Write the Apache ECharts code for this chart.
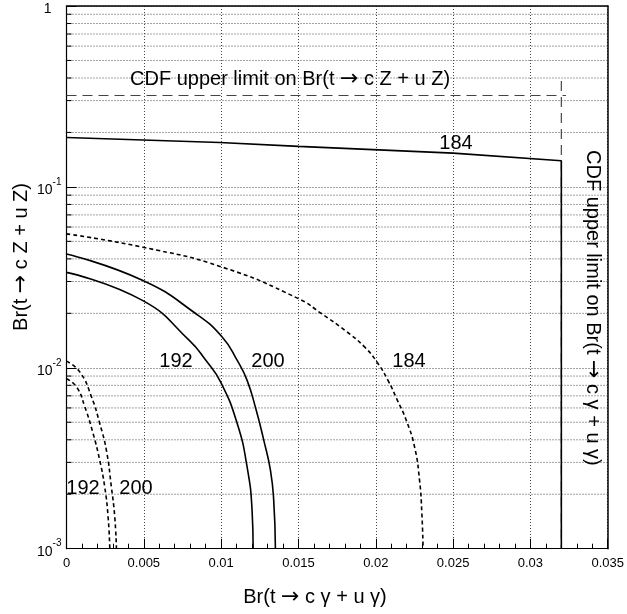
<!DOCTYPE html>
<html>
<head>
<meta charset="utf-8">
<script src="https://cdn.jsdelivr.net/npm/echarts@6/dist/echarts.min.js"></script>
<style>
html,body{margin:0;padding:0;background:#fff;}
#chart{width:627px;height:614px;}
</style>
</head>
<body>
<div id="chart"></div>
<script>
// ---- data (x = Br(t -> c gamma + u gamma), y = Br(t -> c Z + u Z)) ----
var xTicks = [0, 0.005, 0.01, 0.015, 0.02, 0.025, 0.03, 0.035];
var yTicks = [0.001, 0.01, 0.1, 1];

var solid184 = [[0, 0.1876], [0.0099, 0.176], [0.015, 0.1675], [0.025, 0.1538], [0.032, 0.1396], [0.032, 0.001]];
var solid200 = [[0, 0.0426], [0.00494, 0.0304], [0.00837, 0.0199], [0.01008, 0.01477], [0.01104, 0.01098],
  [0.01168, 0.00852], [0.01227, 0.00582], [0.01276, 0.00397], [0.01319, 0.00271], [0.0134, 0.00185], [0.01351, 0.001]];
var solid192 = [[0, 0.0337], [0.00494, 0.0235], [0.00794, 0.01417], [0.00901, 0.0110], [0.00997, 0.00834],
  [0.01104, 0.00492], [0.01168, 0.00283], [0.012, 0.00163], [0.01207, 0.001]];
var dashed184 = [[0, 0.0550], [0.00494, 0.0464], [0.01008, 0.0360], [0.01501, 0.0241], [0.0165, 0.0199],
  [0.01801, 0.0161], [0.01929, 0.0130], [0.02015, 0.01054], [0.02079, 0.00852], [0.0214, 0.00661],
  [0.02197, 0.00513], [0.02251, 0.00365], [0.02283, 0.00239], [0.02298, 0.00157], [0.02306, 0.001]];
var dashed200 = [[0, 0.01089], [0.00087, 0.00946], [0.00162, 0.0069], [0.00215, 0.00492], [0.00258, 0.0035],
  [0.0029, 0.0022], [0.00312, 0.0015], [0.00323, 0.001]];
var dashed192 = [[0, 0.00871], [0.00066, 0.00782], [0.00119, 0.00607], [0.00172, 0.00433], [0.00215, 0.00308],
  [0.00247, 0.0022], [0.00269, 0.0015], [0.0028, 0.001]];
var cdfZLimit = [[0, 0.32], [0.0323, 0.32]];
var cdfGammaLimit = [[0.032, 0.385], [0.032, 0.001]];

var minorLogValues = [];
[0.001, 0.01, 0.1].forEach(function (d) { for (var k = 2; k <= 9; k++) minorLogValues.push(+(d * k).toPrecision(3)); });

var FONT = '"Liberation Sans", Arial, Helvetica, sans-serif';
var ARROW_FONT = '"DejaVu Sans", sans-serif';

var chart = echarts.init(document.getElementById('chart'), null, {renderer: 'canvas'});

function lineSeries(data, dashed, smooth) {
  return {
    type: 'line', data: data, showSymbol: false, smooth: smooth, silent: true,
    xAxisIndex: 0, yAxisIndex: 0, z: 5,
    lineStyle: {color: '#000', width: 1.6, type: dashed ? [4, 3] : 'solid'}
  };
}

var richText = {
  n: {fontSize: 20, fontFamily: FONT, color: '#000'},
  a: {fontSize: 22, fontFamily: ARROW_FONT, color: '#000'}
};
function arrowText(pre, post) { return '{n|' + pre + '}{a|\u2192}{n|' + post + '}'; }

var option = {
  animation: false,
  backgroundColor: '#fff',
  grid: {left: 66.5, right: 16, top: 5, bottom: 65.3, containLabel: false},
  xAxis: [{
    type: 'value', min: 0, max: 0.035, interval: 0.005,
    axisLine: {show: true, lineStyle: {color: '#000', width: 1.2}},
    axisTick: {show: true, inside: true, length: 10, lineStyle: {color: '#000'}},
    minorTick: {show: true, splitNumber: 5, length: 5, lineStyle: {color: '#000'}},
    splitLine: {show: true, lineStyle: {color: '#444', type: [1, 2], width: 1}},
    axisLabel: {
      margin: 8, fontFamily: FONT, fontSize: 13, color: '#000', showMinLabel: true, showMaxLabel: true,
      formatter: function (v) { return String(+v.toFixed(3)); }
    }
  }, {
    type: 'value', position: 'top', min: 0, max: 0.035,
    axisLine: {show: true, onZero: false, lineStyle: {color: '#000', width: 1.5}},
    axisTick: {show: false}, axisLabel: {show: false}, splitLine: {show: false}
  }],
  yAxis: [{
    type: 'log', logBase: 10, min: 0.001, max: 1,
    axisLine: {show: true, lineStyle: {color: '#000', width: 1.2}},
    axisTick: {show: true, inside: true, length: 10, lineStyle: {color: '#000'}},
    splitLine: {show: true, lineStyle: {color: '#444', type: [1, 2], width: 1}},
    axisLabel: {
      margin: 5, fontFamily: FONT, color: '#000', showMinLabel: true, showMaxLabel: true,
      formatter: function (v) {
        var e = Math.round(Math.log10(v));
        if (e === 0) return '{b|1}{p|}';
        return '{b|10}{s|' + e + '}';
      },
      rich: {
        b: {fontSize: 14, fontFamily: FONT, color: '#000', verticalAlign: 'bottom', lineHeight: 20},
        s: {fontSize: 10, fontFamily: FONT, color: '#000', verticalAlign: 'top', lineHeight: 20, padding: [0, 0, 12, 0]},
        p: {width: 10}
      }
    }
  }, {
    type: 'log', logBase: 10, min: 0.001, max: 1, position: 'right',
    axisLine: {show: true, onZero: false, lineStyle: {color: '#000', width: 1.5}},
    axisTick: {show: false}, axisLabel: {show: false}, splitLine: {show: false}
  }],
  series: [
    {
      type: 'custom', silent: true, z: 1,
      data: minorLogValues.map(function (v) { return [0, v]; }),
      renderItem: function (params, api) {
        var p = api.coord([0, api.value(1)]);
        var cs = params.coordSys;
        return {
          type: 'group', children: [
            {type: 'line', shape: {x1: cs.x, y1: p[1], x2: cs.x + cs.width, y2: p[1]},
              style: {stroke: '#444', lineWidth: 1, lineDash: [1, 2]}},
            {type: 'line', shape: {x1: cs.x, y1: p[1], x2: cs.x + 5, y2: p[1]},
              style: {stroke: '#000', lineWidth: 1}}
          ]
        };
      }
    },
    {
      type: 'line', data: cdfZLimit, showSymbol: false, silent: true, z: 4,
      lineStyle: {color: '#444', width: 1.2, type: [10, 6]}
    },
    {
      type: 'line', data: cdfGammaLimit, showSymbol: false, silent: true, z: 4,
      lineStyle: {color: '#444', width: 1.2, type: [10, 6]}
    },
    lineSeries(solid184, false, false),
    lineSeries(solid200, false, 0.5),
    lineSeries(solid192, false, 0.5),
    lineSeries(dashed184, true, 0.5),
    lineSeries(dashed200, true, 0.5),
    lineSeries(dashed192, true, 0.5)
  ],
  graphic: [
    {type: 'text', x: 130, y: 79, z: 10, style: {text: arrowText('CDF upper limit on Br(t ', ' c Z + u Z)'), rich: richText, textAlign: 'left', textVerticalAlign: 'middle'}},
    {type: 'text', x: 604, y: 150, rotation: -Math.PI / 2, z: 10,
      style: {text: arrowText('CDF upper limit on Br(t ', ' c \u03b3 + u \u03b3)'), rich: richText, textAlign: 'left', textVerticalAlign: 'top'}},
    {type: 'text', x: 456, y: 143, z: 10, style: {text: '184', font: '20px ' + FONT, fill: '#000', textAlign: 'center', textVerticalAlign: 'middle'}},
    {type: 'text', x: 176, y: 361, z: 10, style: {text: '192', font: '20px ' + FONT, fill: '#000', textAlign: 'center', textVerticalAlign: 'middle'}},
    {type: 'text', x: 268, y: 361, z: 10, style: {text: '200', font: '20px ' + FONT, fill: '#000', textAlign: 'center', textVerticalAlign: 'middle'}},
    {type: 'text', x: 409, y: 361, z: 10, style: {text: '184', font: '20px ' + FONT, fill: '#000', textAlign: 'center', textVerticalAlign: 'middle'}},
    {type: 'text', x: 83, y: 488, z: 10, style: {text: '192', font: '20px ' + FONT, fill: '#000', textAlign: 'center', textVerticalAlign: 'middle'}},
    {type: 'text', x: 136, y: 488, z: 10, style: {text: '200', font: '20px ' + FONT, fill: '#000', textAlign: 'center', textVerticalAlign: 'middle'}},
    {type: 'text', x: 315, y: 597, z: 10, style: {text: arrowText('Br(t ', ' c \u03b3 + u \u03b3)'), rich: richText, textAlign: 'center', textVerticalAlign: 'middle'}},
    {type: 'text', x: 21, y: 257, rotation: Math.PI / 2, z: 10, style: {text: arrowText('Br(t ', ' c Z + u Z)'), rich: richText, textAlign: 'center', textVerticalAlign: 'middle'}}
  ]
};
chart.setOption(option);
</script>
</body>
</html>
